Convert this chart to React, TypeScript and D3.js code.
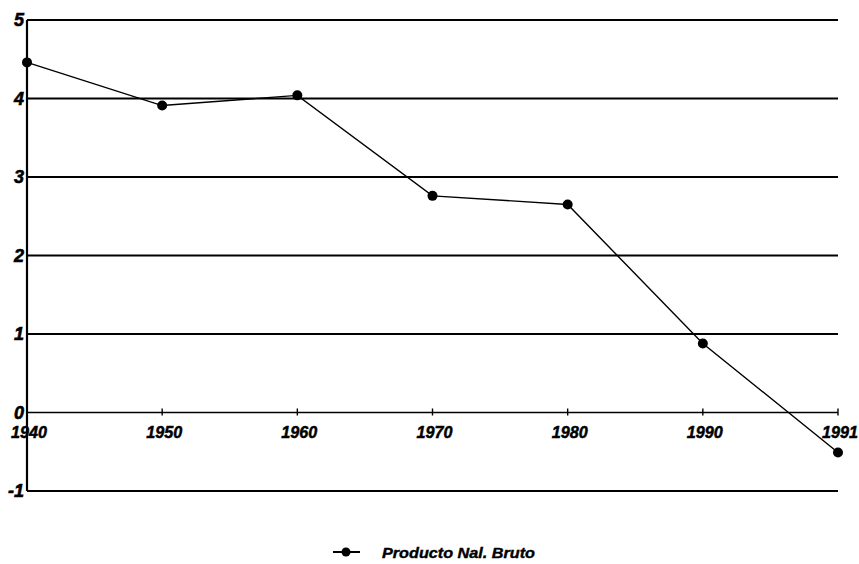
import React from "react";
import * as d3 from "d3";

const years = ["1940", "1950", "1960", "1970", "1980", "1990", "1991"];
const values = [4.46, 3.91, 4.04, 2.76, 2.65, 0.88, -0.51];
const yTicks = [5, 4, 3, 2, 1, 0, -1];
const seriesName = "Producto Nal. Bruto";

export default function App() {
  const W = 859, H = 564;
  const left = 27, right = 838, top = 20, bottom = 491;
  const x = d3.scalePoint<string>().domain(years).range([left, right]);
  const y = d3.scaleLinear().domain([-1, 5]).range([bottom, top]);
  const line = d3
    .line<number>()
    .x((_, i) => x(years[i]) as number)
    .y((d) => y(d));
  const font = "'Liberation Sans', Arial, sans-serif";
  return (
    <svg width={W} height={H} style={{ position: "absolute", left: 0, top: 0, background: "#fff" }}>
      {yTicks.map((t) => (
        <g key={t}>
          <line
            x1={left}
            x2={right}
            y1={y(t)}
            y2={y(t)}
            stroke="#000"
            strokeWidth={t === 0 ? 1.4 : 2.2}
          />
          <text
            x={left - 3}
            y={y(t) + 6}
            textAnchor="end"
            fontFamily={font}
            fontWeight="bold"
            fontStyle="italic"
            fontSize={18}
            stroke="#000"
            strokeWidth={0.6}
          >
            {t}
          </text>
        </g>
      ))}
      <line x1={left} x2={left} y1={top} y2={bottom} stroke="#000" strokeWidth={2.2} />
      {years.map((yr) => (
        <g key={yr}>
          <line x1={x(yr)} x2={x(yr)} y1={y(0) - 4} y2={y(0) + 3} stroke="#000" strokeWidth={1.4} />
          <text
            x={(x(yr) as number) + 2}
            y={y(0) + 25}
            textAnchor="middle"
            fontFamily={font}
            fontWeight="bold"
            fontStyle="italic"
            fontSize={17}
            textLength={36}
            lengthAdjust="spacingAndGlyphs"
            stroke="#000"
            strokeWidth={0.5}
          >
            {yr}
          </text>
        </g>
      ))}
      <path d={line(values) || ""} fill="none" stroke="#000" strokeWidth={1.4} />
      {values.map((v, i) => (
        <circle key={i} cx={x(years[i])} cy={y(v)} r={5} fill="#000" />
      ))}
      <g>
        <line x1={333} x2={360} y1={552} y2={552} stroke="#000" strokeWidth={2} />
        <circle cx={346} cy={552} r={4.5} fill="#000" />
        <text
          x={382}
          y={558}
          fontFamily={font}
          fontWeight="bold"
          fontStyle="italic"
          fontSize={15}
          textLength={153}
          lengthAdjust="spacingAndGlyphs"
          stroke="#000"
          strokeWidth={0.4}
        >
          {seriesName}
        </text>
      </g>
    </svg>
  );
}
